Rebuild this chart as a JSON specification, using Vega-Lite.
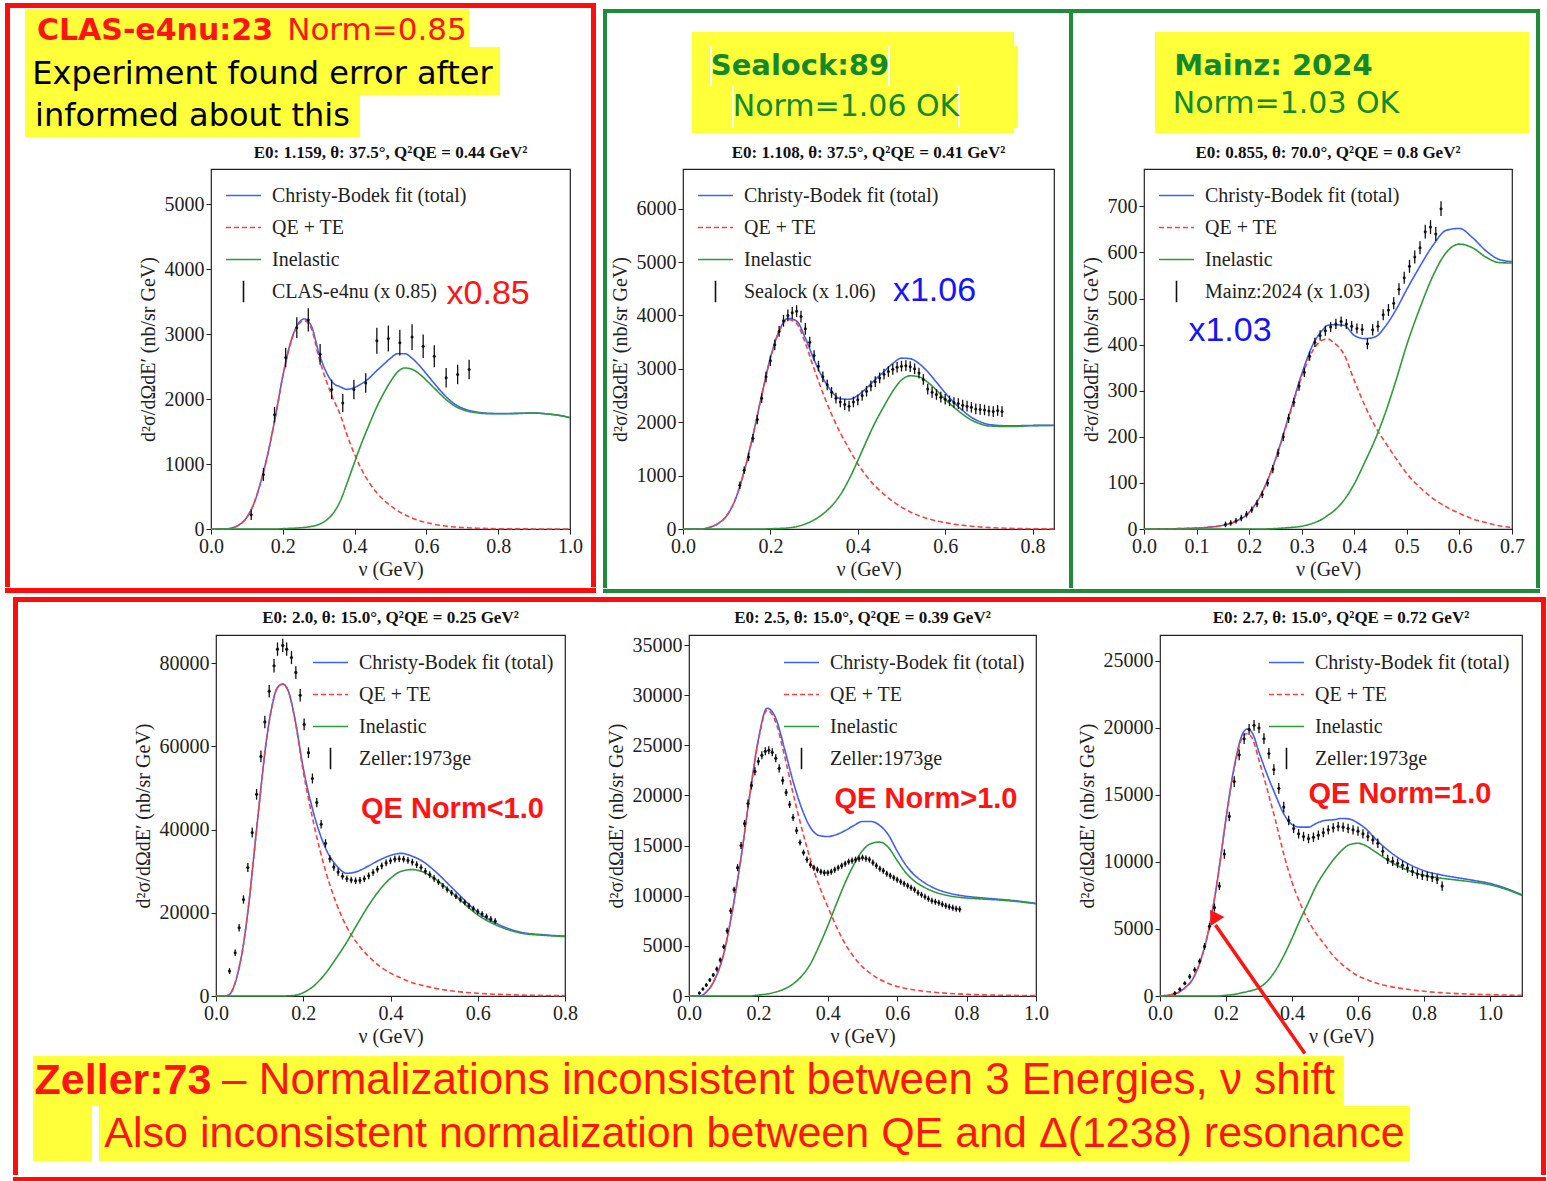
{
"$schema":"https://vega.github.io/schema/vega-lite/v6.json",
"padding":0,
"background":"white",
"datasets":{
"one":[{"a":1}],
"none":[],
"c1":[{"x":0,"qe":0,"inel":0,"tot":0},{"x":0.04,"qe":0,"inel":0,"tot":0},{"x":0.06,"qe":20,"inel":0,"tot":20},{"x":0.08,"qe":70,"inel":0,"tot":70},{"x":0.1,"qe":180,"inel":0,"tot":180},{"x":0.12,"qe":400,"inel":0,"tot":400},{"x":0.14,"qe":750,"inel":0,"tot":750},{"x":0.16,"qe":1200,"inel":0,"tot":1200},{"x":0.18,"qe":1750,"inel":0,"tot":1750},{"x":0.2,"qe":2350,"inel":5,"tot":2355},{"x":0.22,"qe":2830,"inel":10,"tot":2840},{"x":0.24,"qe":3120,"inel":15,"tot":3135},{"x":0.26,"qe":3210,"inel":25,"tot":3235},{"x":0.28,"qe":3080,"inel":40,"tot":3120},{"x":0.3,"qe":2650,"inel":70,"tot":2720},{"x":0.32,"qe":2300,"inel":130,"tot":2430},{"x":0.34,"qe":2010,"inel":240,"tot":2250},{"x":0.36,"qe":1760,"inel":430,"tot":2190},{"x":0.38,"qe":1430,"inel":720,"tot":2150},{"x":0.4,"qe":1150,"inel":1030,"tot":2180},{"x":0.42,"qe":910,"inel":1330,"tot":2240},{"x":0.44,"qe":720,"inel":1600,"tot":2320},{"x":0.46,"qe":570,"inel":1860,"tot":2430},{"x":0.48,"qe":450,"inel":2080,"tot":2530},{"x":0.5,"qe":360,"inel":2270,"tot":2630},{"x":0.52,"qe":280,"inel":2420,"tot":2700},{"x":0.54,"qe":220,"inel":2480,"tot":2700},{"x":0.56,"qe":170,"inel":2460,"tot":2630},{"x":0.58,"qe":130,"inel":2390,"tot":2520},{"x":0.6,"qe":100,"inel":2290,"tot":2390},{"x":0.62,"qe":75,"inel":2180,"tot":2255},{"x":0.64,"qe":55,"inel":2070,"tot":2125},{"x":0.66,"qe":40,"inel":1970,"tot":2010},{"x":0.68,"qe":30,"inel":1890,"tot":1920},{"x":0.7,"qe":22,"inel":1840,"tot":1862},{"x":0.74,"qe":12,"inel":1790,"tot":1802},{"x":0.78,"qe":6,"inel":1775,"tot":1781},{"x":0.82,"qe":3,"inel":1775,"tot":1778},{"x":0.86,"qe":2,"inel":1780,"tot":1782},{"x":0.9,"qe":1,"inel":1785,"tot":1786},{"x":0.94,"qe":0,"inel":1770,"tot":1770},{"x":0.97,"qe":0,"inel":1750,"tot":1750},{"x":1.0,"qe":0,"inel":1715,"tot":1715}],
"d1":[{"x":0.112,"y":220,"e":80},{"x":0.146,"y":840,"e":100},{"x":0.177,"y":1760,"e":120},{"x":0.208,"y":2640,"e":150},{"x":0.239,"y":3100,"e":160},{"x":0.271,"y":3220,"e":180},{"x":0.304,"y":2690,"e":160},{"x":0.336,"y":2150,"e":150},{"x":0.367,"y":1940,"e":140},{"x":0.398,"y":2150,"e":150},{"x":0.431,"y":2250,"e":150},{"x":0.462,"y":2900,"e":200},{"x":0.494,"y":2935,"e":200},{"x":0.526,"y":2870,"e":200},{"x":0.56,"y":2955,"e":200},{"x":0.591,"y":2815,"e":180},{"x":0.622,"y":2660,"e":170},{"x":0.655,"y":2330,"e":150},{"x":0.687,"y":2380,"e":150},{"x":0.719,"y":2455,"e":150}],
"c2":[{"x":0,"qe":0,"inel":0,"tot":0},{"x":0.04,"qe":0,"inel":0,"tot":0},{"x":0.06,"qe":30,"inel":0,"tot":30},{"x":0.08,"qe":100,"inel":0,"tot":100},{"x":0.1,"qe":250,"inel":0,"tot":250},{"x":0.12,"qe":560,"inel":0,"tot":560},{"x":0.14,"qe":1080,"inel":0,"tot":1080},{"x":0.16,"qe":1750,"inel":0,"tot":1750},{"x":0.18,"qe":2500,"inel":0,"tot":2500},{"x":0.2,"qe":3200,"inel":5,"tot":3205},{"x":0.22,"qe":3700,"inel":10,"tot":3710},{"x":0.24,"qe":3925,"inel":20,"tot":3945},{"x":0.26,"qe":3850,"inel":45,"tot":3895},{"x":0.28,"qe":3480,"inel":95,"tot":3575},{"x":0.3,"qe":3000,"inel":170,"tot":3170},{"x":0.32,"qe":2550,"inel":280,"tot":2830},{"x":0.34,"qe":2150,"inel":430,"tot":2580},{"x":0.36,"qe":1800,"inel":640,"tot":2440},{"x":0.38,"qe":1500,"inel":930,"tot":2430},{"x":0.4,"qe":1220,"inel":1280,"tot":2500},{"x":0.42,"qe":990,"inel":1650,"tot":2640},{"x":0.44,"qe":800,"inel":2000,"tot":2800},{"x":0.46,"qe":650,"inel":2300,"tot":2950},{"x":0.48,"qe":520,"inel":2580,"tot":3100},{"x":0.5,"qe":410,"inel":2790,"tot":3200},{"x":0.52,"qe":320,"inel":2870,"tot":3190},{"x":0.54,"qe":250,"inel":2850,"tot":3100},{"x":0.56,"qe":195,"inel":2750,"tot":2945},{"x":0.58,"qe":150,"inel":2600,"tot":2750},{"x":0.6,"qe":120,"inel":2430,"tot":2550},{"x":0.62,"qe":90,"inel":2280,"tot":2370},{"x":0.64,"qe":70,"inel":2150,"tot":2220},{"x":0.66,"qe":52,"inel":2040,"tot":2092},{"x":0.68,"qe":38,"inel":1970,"tot":2008},{"x":0.7,"qe":28,"inel":1930,"tot":1958},{"x":0.75,"qe":12,"inel":1920,"tot":1932},{"x":0.8,"qe":5,"inel":1935,"tot":1940},{"x":0.849,"qe":2,"inel":1940,"tot":1942}],
"d2":[{"x":0.13,"y":820,"e":70},{"x":0.14,"y":1100,"e":70},{"x":0.15,"y":1350,"e":80},{"x":0.16,"y":1700,"e":80},{"x":0.17,"y":2050,"e":90},{"x":0.18,"y":2450,"e":90},{"x":0.19,"y":2850,"e":100},{"x":0.2,"y":3150,"e":100},{"x":0.21,"y":3450,"e":100},{"x":0.22,"y":3700,"e":100},{"x":0.23,"y":3900,"e":110},{"x":0.24,"y":4000,"e":110},{"x":0.25,"y":4050,"e":110},{"x":0.26,"y":4080,"e":110},{"x":0.27,"y":3980,"e":110},{"x":0.28,"y":3750,"e":110},{"x":0.29,"y":3500,"e":100},{"x":0.3,"y":3250,"e":100},{"x":0.31,"y":3050,"e":100},{"x":0.32,"y":2850,"e":100},{"x":0.33,"y":2700,"e":100},{"x":0.34,"y":2560,"e":100},{"x":0.35,"y":2450,"e":100},{"x":0.36,"y":2380,"e":100},{"x":0.37,"y":2330,"e":100},{"x":0.38,"y":2300,"e":100},{"x":0.39,"y":2380,"e":100},{"x":0.4,"y":2420,"e":100},{"x":0.41,"y":2500,"e":100},{"x":0.42,"y":2580,"e":100},{"x":0.43,"y":2680,"e":100},{"x":0.44,"y":2760,"e":100},{"x":0.45,"y":2830,"e":100},{"x":0.46,"y":2900,"e":100},{"x":0.47,"y":2950,"e":100},{"x":0.48,"y":2990,"e":100},{"x":0.49,"y":3030,"e":100},{"x":0.5,"y":3050,"e":100},{"x":0.51,"y":3060,"e":100},{"x":0.52,"y":3040,"e":100},{"x":0.53,"y":3000,"e":100},{"x":0.54,"y":2920,"e":100},{"x":0.55,"y":2800,"e":100},{"x":0.56,"y":2620,"e":100},{"x":0.57,"y":2560,"e":100},{"x":0.58,"y":2520,"e":100},{"x":0.59,"y":2470,"e":100},{"x":0.6,"y":2430,"e":100},{"x":0.61,"y":2400,"e":100},{"x":0.62,"y":2370,"e":100},{"x":0.63,"y":2350,"e":100},{"x":0.64,"y":2320,"e":100},{"x":0.65,"y":2300,"e":100},{"x":0.66,"y":2280,"e":100},{"x":0.67,"y":2250,"e":100},{"x":0.68,"y":2240,"e":100},{"x":0.69,"y":2230,"e":100},{"x":0.7,"y":2210,"e":100},{"x":0.71,"y":2200,"e":100},{"x":0.72,"y":2220,"e":100},{"x":0.73,"y":2200,"e":100}],
"c3":[{"x":0,"qe":0,"inel":0,"tot":0},{"x":0.05,"qe":0.5,"inel":0,"tot":0.5},{"x":0.1,"qe":2,"inel":0,"tot":2},{"x":0.125,"qe":4,"inel":0,"tot":4},{"x":0.15,"qe":8,"inel":0,"tot":8},{"x":0.175,"qe":17,"inel":0,"tot":17},{"x":0.2,"qe":36,"inel":0,"tot":36},{"x":0.225,"qe":80,"inel":0,"tot":80},{"x":0.25,"qe":150,"inel":1,"tot":151},{"x":0.275,"qe":240,"inel":3,"tot":243},{"x":0.3,"qe":330,"inel":6,"tot":336},{"x":0.32,"qe":385,"inel":12,"tot":397},{"x":0.34,"qe":410,"inel":22,"tot":432},{"x":0.35,"qe":412,"inel":30,"tot":442},{"x":0.36,"qe":405,"inel":38,"tot":443},{"x":0.38,"qe":380,"inel":62,"tot":442},{"x":0.4,"qe":322,"inel":98,"tot":420},{"x":0.42,"qe":268,"inel":145,"tot":413},{"x":0.44,"qe":222,"inel":195,"tot":417},{"x":0.46,"qe":186,"inel":255,"tot":441},{"x":0.48,"qe":152,"inel":325,"tot":477},{"x":0.5,"qe":120,"inel":400,"tot":520},{"x":0.525,"qe":90,"inel":480,"tot":570},{"x":0.55,"qe":66,"inel":550,"tot":616},{"x":0.575,"qe":48,"inel":600,"tot":648},{"x":0.6,"qe":34,"inel":618,"tot":652},{"x":0.625,"qe":22,"inel":610,"tot":632},{"x":0.65,"qe":14,"inel":590,"tot":604},{"x":0.675,"qe":7,"inel":578,"tot":585},{"x":0.7,"qe":3,"inel":577,"tot":580}],
"d3":[{"x":0.155,"y":10,"e":6},{"x":0.165,"y":13,"e":6},{"x":0.175,"y":18,"e":6},{"x":0.185,"y":24,"e":7},{"x":0.195,"y":32,"e":7},{"x":0.205,"y":42,"e":7},{"x":0.215,"y":55,"e":8},{"x":0.225,"y":75,"e":8},{"x":0.235,"y":100,"e":8},{"x":0.245,"y":130,"e":9},{"x":0.255,"y":165,"e":9},{"x":0.265,"y":200,"e":9},{"x":0.275,"y":240,"e":10},{"x":0.285,"y":275,"e":10},{"x":0.295,"y":310,"e":10},{"x":0.305,"y":340,"e":10},{"x":0.315,"y":375,"e":10},{"x":0.325,"y":405,"e":10},{"x":0.335,"y":420,"e":11},{"x":0.345,"y":430,"e":11},{"x":0.355,"y":438,"e":11},{"x":0.365,"y":445,"e":11},{"x":0.375,"y":450,"e":11},{"x":0.385,"y":445,"e":11},{"x":0.395,"y":440,"e":11},{"x":0.405,"y":435,"e":11},{"x":0.415,"y":433,"e":12},{"x":0.425,"y":402,"e":12},{"x":0.435,"y":432,"e":12},{"x":0.445,"y":440,"e":12},{"x":0.455,"y":465,"e":12},{"x":0.465,"y":475,"e":13},{"x":0.475,"y":490,"e":13},{"x":0.485,"y":520,"e":13},{"x":0.495,"y":545,"e":13},{"x":0.505,"y":570,"e":14},{"x":0.515,"y":590,"e":14},{"x":0.525,"y":610,"e":14},{"x":0.535,"y":645,"e":15},{"x":0.545,"y":655,"e":15},{"x":0.555,"y":640,"e":15},{"x":0.565,"y":695,"e":16}],
"c4":[{"x":0,"qe":0,"inel":0,"tot":0},{"x":0.02,"qe":0,"inel":0,"tot":0},{"x":0.03,"qe":300,"inel":0,"tot":300},{"x":0.04,"qe":2000,"inel":0,"tot":2000},{"x":0.05,"qe":5500,"inel":0,"tot":5500},{"x":0.06,"qe":10500,"inel":0,"tot":10500},{"x":0.075,"qe":22000,"inel":0,"tot":22000},{"x":0.09,"qe":37000,"inel":0,"tot":37000},{"x":0.1,"qe":47000,"inel":0,"tot":47000},{"x":0.115,"qe":61000,"inel":0,"tot":61000},{"x":0.13,"qe":70500,"inel":0,"tot":70500},{"x":0.14,"qe":74000,"inel":0,"tot":74000},{"x":0.153,"qe":75000,"inel":0,"tot":75000},{"x":0.165,"qe":73500,"inel":50,"tot":73550},{"x":0.18,"qe":67000,"inel":150,"tot":67150},{"x":0.2,"qe":54000,"inel":800,"tot":54800},{"x":0.225,"qe":41000,"inel":2500,"tot":43500},{"x":0.25,"qe":30500,"inel":5300,"tot":35800},{"x":0.275,"qe":22500,"inel":9000,"tot":31500},{"x":0.3,"qe":16500,"inel":13000,"tot":29500},{"x":0.325,"qe":12500,"inel":17500,"tot":30000},{"x":0.35,"qe":9500,"inel":21800,"tot":31300},{"x":0.375,"qe":7200,"inel":25500,"tot":32700},{"x":0.4,"qe":5500,"inel":28300,"tot":33800},{"x":0.425,"qe":4300,"inel":30000,"tot":34300},{"x":0.45,"qe":3200,"inel":30400,"tot":33600},{"x":0.475,"qe":2500,"inel":29800,"tot":32300},{"x":0.5,"qe":1900,"inel":28300,"tot":30200},{"x":0.55,"qe":1100,"inel":24000,"tot":25100},{"x":0.6,"qe":650,"inel":19500,"tot":20150},{"x":0.65,"qe":380,"inel":16700,"tot":17080},{"x":0.7,"qe":220,"inel":15100,"tot":15320},{"x":0.75,"qe":130,"inel":14600,"tot":14730},{"x":0.8,"qe":80,"inel":14300,"tot":14380}],
"d4":[{"x":0.031,"y":6000,"e":700},{"x":0.044,"y":10400,"e":800},{"x":0.053,"y":16400,"e":900},{"x":0.063,"y":23200,"e":1000},{"x":0.073,"y":30900,"e":1100},{"x":0.083,"y":39300,"e":1200},{"x":0.093,"y":48500,"e":1300},{"x":0.103,"y":57600,"e":1400},{"x":0.112,"y":65900,"e":1500},{"x":0.122,"y":73300,"e":1500},{"x":0.133,"y":79400,"e":1600},{"x":0.141,"y":83400,"e":1600},{"x":0.153,"y":84300,"e":1600},{"x":0.162,"y":83400,"e":1600},{"x":0.173,"y":81400,"e":1600},{"x":0.183,"y":77800,"e":1500},{"x":0.193,"y":72300,"e":1500},{"x":0.202,"y":65300,"e":1400},{"x":0.212,"y":58500,"e":1300},{"x":0.221,"y":52300,"e":1200},{"x":0.231,"y":46500,"e":1100},{"x":0.241,"y":41300,"e":1000},{"x":0.251,"y":36700,"e":1000},{"x":0.261,"y":33000,"e":900},{"x":0.27,"y":31000,"e":900},{"x":0.28,"y":29800,"e":900},{"x":0.29,"y":28800,"e":800},{"x":0.3,"y":28200,"e":800},{"x":0.31,"y":27900,"e":800},{"x":0.32,"y":27700,"e":800},{"x":0.33,"y":27800,"e":800},{"x":0.34,"y":28200,"e":800},{"x":0.35,"y":28900,"e":800},{"x":0.36,"y":29700,"e":800},{"x":0.37,"y":30500,"e":800},{"x":0.38,"y":31300,"e":800},{"x":0.39,"y":32000,"e":800},{"x":0.4,"y":32500,"e":800},{"x":0.41,"y":32900,"e":800},{"x":0.42,"y":33000,"e":800},{"x":0.43,"y":32900,"e":800},{"x":0.44,"y":32600,"e":800},{"x":0.45,"y":32200,"e":800},{"x":0.46,"y":31600,"e":800},{"x":0.47,"y":30900,"e":800},{"x":0.48,"y":30000,"e":800},{"x":0.49,"y":29200,"e":800},{"x":0.5,"y":28300,"e":800},{"x":0.51,"y":27400,"e":700},{"x":0.52,"y":26500,"e":700},{"x":0.53,"y":25600,"e":700},{"x":0.54,"y":24800,"e":700},{"x":0.55,"y":24000,"e":700},{"x":0.56,"y":23200,"e":700},{"x":0.57,"y":22500,"e":700},{"x":0.58,"y":21700,"e":700},{"x":0.59,"y":21000,"e":700},{"x":0.6,"y":20300,"e":700},{"x":0.61,"y":19700,"e":700},{"x":0.62,"y":19100,"e":700},{"x":0.63,"y":18500,"e":700},{"x":0.64,"y":18000,"e":700}],
"c5":[{"x":0,"qe":0,"inel":0,"tot":0},{"x":0.03,"qe":0,"inel":0,"tot":0},{"x":0.05,"qe":400,"inel":0,"tot":400},{"x":0.075,"qe":1700,"inel":0,"tot":1700},{"x":0.1,"qe":4200,"inel":0,"tot":4200},{"x":0.125,"qe":8500,"inel":0,"tot":8500},{"x":0.15,"qe":13800,"inel":0,"tot":13800},{"x":0.175,"qe":20000,"inel":0,"tot":20000},{"x":0.2,"qe":25500,"inel":100,"tot":25600},{"x":0.225,"qe":28500,"inel":200,"tot":28700},{"x":0.25,"qe":27300,"inel":400,"tot":27700},{"x":0.275,"qe":24000,"inel":700,"tot":24700},{"x":0.3,"qe":20200,"inel":1200,"tot":21400},{"x":0.325,"qe":16700,"inel":2000,"tot":18700},{"x":0.35,"qe":13600,"inel":3200,"tot":16800},{"x":0.375,"qe":11000,"inel":5000,"tot":16000},{"x":0.4,"qe":8900,"inel":7000,"tot":15900},{"x":0.425,"qe":6900,"inel":9200,"tot":16100},{"x":0.45,"qe":5200,"inel":11300,"tot":16500},{"x":0.475,"qe":3900,"inel":13100,"tot":17000},{"x":0.5,"qe":2900,"inel":14500,"tot":17400},{"x":0.525,"qe":2200,"inel":15200,"tot":17400},{"x":0.55,"qe":1650,"inel":15350,"tot":17000},{"x":0.575,"qe":1250,"inel":14800,"tot":16050},{"x":0.6,"qe":950,"inel":13500,"tot":14450},{"x":0.625,"qe":750,"inel":12300,"tot":13050},{"x":0.65,"qe":600,"inel":11450,"tot":12050},{"x":0.675,"qe":480,"inel":10900,"tot":11380},{"x":0.7,"qe":390,"inel":10480,"tot":10870},{"x":0.75,"qe":260,"inel":9990,"tot":10250},{"x":0.8,"qe":170,"inel":9770,"tot":9940},{"x":0.85,"qe":110,"inel":9660,"tot":9770},{"x":0.9,"qe":75,"inel":9555,"tot":9630},{"x":0.95,"qe":55,"inel":9405,"tot":9460},{"x":1.0,"qe":40,"inel":9200,"tot":9240}],
"d5":[{"x":0.03,"y":300,"e":150},{"x":0.04,"y":700,"e":150},{"x":0.05,"y":1100,"e":200},{"x":0.06,"y":1600,"e":200},{"x":0.07,"y":2100,"e":200},{"x":0.08,"y":2700,"e":250},{"x":0.09,"y":3600,"e":250},{"x":0.1,"y":4900,"e":250},{"x":0.11,"y":6500,"e":300},{"x":0.12,"y":8500,"e":300},{"x":0.13,"y":10600,"e":300},{"x":0.14,"y":12800,"e":350},{"x":0.15,"y":15000,"e":350},{"x":0.16,"y":17200,"e":350},{"x":0.17,"y":19200,"e":400},{"x":0.18,"y":21000,"e":400},{"x":0.19,"y":22400,"e":400},{"x":0.2,"y":23400,"e":400},{"x":0.21,"y":24000,"e":400},{"x":0.22,"y":24400,"e":400},{"x":0.23,"y":24500,"e":400},{"x":0.24,"y":24300,"e":400},{"x":0.25,"y":23700,"e":400},{"x":0.26,"y":22700,"e":400},{"x":0.27,"y":21500,"e":400},{"x":0.28,"y":20300,"e":350},{"x":0.29,"y":19100,"e":350},{"x":0.3,"y":17800,"e":350},{"x":0.31,"y":16500,"e":350},{"x":0.32,"y":15300,"e":300},{"x":0.33,"y":14300,"e":300},{"x":0.34,"y":13600,"e":300},{"x":0.35,"y":13100,"e":300},{"x":0.36,"y":12800,"e":300},{"x":0.37,"y":12600,"e":300},{"x":0.38,"y":12400,"e":300},{"x":0.39,"y":12300,"e":300},{"x":0.4,"y":12300,"e":300},{"x":0.41,"y":12400,"e":300},{"x":0.42,"y":12600,"e":300},{"x":0.43,"y":12800,"e":300},{"x":0.44,"y":13000,"e":300},{"x":0.45,"y":13200,"e":300},{"x":0.46,"y":13400,"e":300},{"x":0.47,"y":13500,"e":300},{"x":0.48,"y":13600,"e":300},{"x":0.49,"y":13700,"e":300},{"x":0.5,"y":13800,"e":300},{"x":0.51,"y":13700,"e":300},{"x":0.52,"y":13600,"e":300},{"x":0.53,"y":13300,"e":300},{"x":0.54,"y":13000,"e":300},{"x":0.55,"y":12700,"e":300},{"x":0.56,"y":12500,"e":300},{"x":0.57,"y":12200,"e":300},{"x":0.58,"y":12000,"e":300},{"x":0.59,"y":11800,"e":300},{"x":0.6,"y":11600,"e":300},{"x":0.61,"y":11400,"e":300},{"x":0.62,"y":11200,"e":300},{"x":0.63,"y":11000,"e":300},{"x":0.64,"y":10800,"e":300},{"x":0.65,"y":10600,"e":300},{"x":0.66,"y":10300,"e":300},{"x":0.67,"y":10100,"e":300},{"x":0.68,"y":9900,"e":300},{"x":0.69,"y":9700,"e":300},{"x":0.7,"y":9500,"e":300},{"x":0.71,"y":9400,"e":300},{"x":0.72,"y":9300,"e":300},{"x":0.73,"y":9150,"e":300},{"x":0.74,"y":9000,"e":300},{"x":0.75,"y":8900,"e":300},{"x":0.76,"y":8800,"e":300},{"x":0.77,"y":8700,"e":300},{"x":0.78,"y":8650,"e":300}],
"c6":[{"x":0,"qe":0,"inel":0,"tot":0},{"x":0.05,"qe":200,"inel":0,"tot":200},{"x":0.075,"qe":600,"inel":0,"tot":600},{"x":0.1,"qe":1300,"inel":0,"tot":1300},{"x":0.125,"qe":2800,"inel":0,"tot":2800},{"x":0.15,"qe":5200,"inel":0,"tot":5200},{"x":0.175,"qe":8800,"inel":0,"tot":8800},{"x":0.2,"qe":13200,"inel":60,"tot":13260},{"x":0.225,"qe":17000,"inel":120,"tot":17120},{"x":0.25,"qe":19300,"inel":250,"tot":19550},{"x":0.265,"qe":19600,"inel":330,"tot":19930},{"x":0.28,"qe":19200,"inel":420,"tot":19620},{"x":0.3,"qe":17600,"inel":600,"tot":18200},{"x":0.325,"qe":15400,"inel":1100,"tot":16500},{"x":0.35,"qe":13100,"inel":1900,"tot":15000},{"x":0.375,"qe":10600,"inel":3000,"tot":13600},{"x":0.4,"qe":8500,"inel":4300,"tot":12800},{"x":0.425,"qe":6900,"inel":5700,"tot":12600},{"x":0.45,"qe":5600,"inel":7000,"tot":12600},{"x":0.475,"qe":4600,"inel":8300,"tot":12900},{"x":0.5,"qe":3800,"inel":9300,"tot":13100},{"x":0.525,"qe":3000,"inel":10150,"tot":13150},{"x":0.55,"qe":2400,"inel":10850,"tot":13250},{"x":0.575,"qe":1900,"inel":11300,"tot":13200},{"x":0.6,"qe":1500,"inel":11400,"tot":12900},{"x":0.625,"qe":1250,"inel":11200,"tot":12450},{"x":0.65,"qe":1000,"inel":10800,"tot":11800},{"x":0.7,"qe":700,"inel":10000,"tot":10700},{"x":0.75,"qe":500,"inel":9400,"tot":9900},{"x":0.8,"qe":350,"inel":9000,"tot":9350},{"x":0.85,"qe":250,"inel":8800,"tot":9050},{"x":0.9,"qe":180,"inel":8650,"tot":8830},{"x":0.95,"qe":130,"inel":8500,"tot":8630},{"x":1.0,"qe":100,"inel":8300,"tot":8400},{"x":1.05,"qe":70,"inel":7950,"tot":8020},{"x":1.097,"qe":50,"inel":7500,"tot":7550}],
"d6":[{"x":0.045,"y":200,"e":150},{"x":0.06,"y":500,"e":150},{"x":0.075,"y":950,"e":150},{"x":0.09,"y":1450,"e":200},{"x":0.105,"y":1950,"e":200},{"x":0.12,"y":2600,"e":200},{"x":0.135,"y":3700,"e":250},{"x":0.15,"y":5200,"e":250},{"x":0.165,"y":6600,"e":300},{"x":0.18,"y":8200,"e":300},{"x":0.195,"y":10600,"e":350},{"x":0.21,"y":13400,"e":350},{"x":0.225,"y":16000,"e":400},{"x":0.24,"y":18000,"e":400},{"x":0.255,"y":19200,"e":400},{"x":0.27,"y":19900,"e":400},{"x":0.285,"y":20200,"e":400},{"x":0.3,"y":20000,"e":400},{"x":0.315,"y":19200,"e":400},{"x":0.33,"y":18100,"e":400},{"x":0.345,"y":16900,"e":400},{"x":0.36,"y":15500,"e":400},{"x":0.375,"y":14100,"e":400},{"x":0.39,"y":13100,"e":350},{"x":0.405,"y":12500,"e":350},{"x":0.42,"y":12100,"e":350},{"x":0.435,"y":11900,"e":350},{"x":0.45,"y":11750,"e":350},{"x":0.465,"y":11850,"e":350},{"x":0.48,"y":12000,"e":350},{"x":0.495,"y":12200,"e":350},{"x":0.51,"y":12400,"e":350},{"x":0.525,"y":12550,"e":350},{"x":0.54,"y":12650,"e":350},{"x":0.555,"y":12600,"e":350},{"x":0.57,"y":12500,"e":350},{"x":0.585,"y":12400,"e":350},{"x":0.6,"y":12300,"e":350},{"x":0.615,"y":12100,"e":350},{"x":0.63,"y":11900,"e":350},{"x":0.645,"y":11650,"e":350},{"x":0.66,"y":11400,"e":350},{"x":0.675,"y":10800,"e":350},{"x":0.69,"y":10200,"e":350},{"x":0.705,"y":10050,"e":350},{"x":0.72,"y":9900,"e":350},{"x":0.735,"y":9750,"e":350},{"x":0.75,"y":9550,"e":350},{"x":0.765,"y":9300,"e":350},{"x":0.78,"y":9100,"e":350},{"x":0.795,"y":9000,"e":350},{"x":0.81,"y":8950,"e":350},{"x":0.825,"y":8850,"e":350},{"x":0.84,"y":8700,"e":350},{"x":0.855,"y":8200,"e":350}]
},
"config":{
"view":{"stroke":null},
"concat":{"spacing":0},
"axis":{"grid":false,"domain":false,"tickColor":"#222","tickSize":5,"tickWidth":1,"labelFont":"Liberation Serif","labelFontSize":20,"labelColor":"#222","labelPadding":2,"labelOverlap":false,"labelFlush":false,"titleFont":"Liberation Serif","titleFontSize":20,"titleFontWeight":"normal","titleColor":"#222","titleLimit":1000},
"axisX":{"titlePadding":3},
"axisY":{"titlePadding":6},
"legend":{"labelFont":"Liberation Serif","labelFontSize":20,"labelColor":"#222","symbolSize":1225,"symbolStrokeWidth":1.6,"labelOffset":10,"rowPadding":3,"padding":0,"symbolType":"stroke","labelLimit":400}
},
"vconcat":[
{"hconcat":[
 {"width":5,"height":1,"data":{"name":"none"},"mark":"text"},
 {"vconcat":[
  {"width":591,"height":3,"data":{"name":"none"},"mark":"text"},
  {"vconcat":[
   {"width":591,"height":5,"data":{"name":"none"},"mark":"text","view":{"fill":"#ff0d0d"}},
   {"hconcat":[
    {"width":5,"height":579,"data":{"name":"none"},"mark":"text","view":{"fill":"#ff0d0d"}},
    {"vconcat":[
     {"width":581,"height":1,"data":{"name":"none"},"mark":"text"},
     {"hconcat":[
      {"width":15,"height":38,"data":{"name":"none"},"mark":"text"},
      {"width":260,"height":38,"data":{"name":"one"},"mark":{"type":"text","text":"CLAS-e4nu:23","font":"DejaVu Sans","fontSize":30,"fontWeight":"bold","color":"#ff1414","dy":3},"view":{"fill":"#ffff3a"}},
      {"width":184,"height":38,"data":{"name":"one"},"mark":{"type":"text","text":"Norm=0.85","font":"DejaVu Sans","fontSize":31,"color":"#ff1414","dy":3},"view":{"fill":"#ffff3a"}}
     ]},
     {"hconcat":[
      {"width":15,"height":48,"data":{"name":"none"},"mark":"text"},
      {"width":475,"height":48,"data":{"name":"one"},"mark":{"type":"text","text":"Experiment found error after","font":"DejaVu Sans","fontSize":32,"color":"#000","dy":3},"view":{"fill":"#ffff3a"}}
     ]},
     {"hconcat":[
      {"width":15,"height":42,"data":{"name":"none"},"mark":"text"},
      {"width":335,"height":42,"data":{"name":"one"},"mark":{"type":"text","text":"informed  about this","font":"DejaVu Sans","fontSize":32,"color":"#000"},"view":{"fill":"#ffff3a"}}
     ]},
     {"hconcat":[
      {"width":201,"height":31,"data":{"name":"none"},"mark":"text"},
      {"width":359,"height":31,"data":{"name":"one"},"mark":{"type":"text","text":"E0: 1.159, θ: 37.5°, Q²QE = 0.44 GeV²","font":"Liberation Serif","fontSize":17,"fontWeight":"bold","color":"#111"}},
      {"width":21,"height":31,"data":{"name":"none"},"mark":"text"}
     ]},
     {"hconcat":[
      {"width":201,"height":419,"data":{"name":"none"},"mark":"text"},
      {"width":359,"height":360,"view":{"stroke":"#222","strokeWidth":1.2},
       "layer":[
        {"data":{"name":"c1"},"transform":[{"fold":["tot","qe","inel"],"as":["k","v"]}],
         "mark":{"type":"line","interpolate":"monotone","strokeWidth":1.6},
         "encoding":{
          "x":{"field":"x","type":"quantitative","scale":{"domain":[0,1],"nice":false,"zero":false},"axis":{"values":[0,0.2,0.4,0.6,0.8,1],"format":".1f"},"title":"ν (GeV)"},
          "y":{"field":"v","type":"quantitative","scale":{"domain":[0,5544],"nice":false},"axis":{"values":[0,1000,2000,3000,4000,5000],"format":"d"},"title":"d²σ/dΩdE′ (nb/sr GeV)"},
          "color":{"field":"k","type":"nominal","scale":{"domain":["tot","qe","inel","dat"],"range":["#3f5ff5","#ff4040","#2f9a3a","#111111"]},
            "legend":{"orient":"none","legendX":14,"legendY":8,"title":null,"labelExpr":"datum.value == 'tot' ? 'Christy-Bodek fit (total)' : datum.value == 'qe' ? 'QE + TE' : datum.value == 'inel' ? 'Inelastic' : 'CLAS-e4nu (x 0.85)'",
            "encode":{"symbols":{"update":{"shape":{"signal":"datum.value === 'dat' ? 'M0,-0.62L0,0.62' : 'stroke'"},"strokeDash":{"signal":"datum.value === 'qe' ? [5,3] : [1,0]"}}}}}},
          "strokeDash":{"field":"k","type":"nominal","scale":{"domain":["tot","qe","inel"],"range":[[1,0],[5,3],[1,0]]},"legend":null}
         }},
        {"data":{"name":"d1"},"mark":{"type":"errorbar","thickness":1.3},
         "encoding":{"x":{"field":"x","type":"quantitative","title":"ν (GeV)"},"y":{"field":"y","type":"quantitative","title":"d²σ/dΩdE′ (nb/sr GeV)"},"yError":{"field":"e"},"color":{"datum":"dat"}}},
        {"data":{"name":"d1"},"mark":{"type":"point","filled":true,"size":9,"color":"#111","opacity":1},
         "encoding":{"x":{"field":"x","type":"quantitative","title":"ν (GeV)"},"y":{"field":"y","type":"quantitative","title":"d²σ/dΩdE′ (nb/sr GeV)"}}},
        {"data":{"values":[{"x":0.772,"y":3619,"t":"x0.85"}]},"mark":{"type":"text","font":"Liberation Sans","fontSize":34,"color":"#ff1414"},
         "encoding":{"x":{"field":"x","type":"quantitative","title":"ν (GeV)"},"y":{"field":"y","type":"quantitative","title":"d²σ/dΩdE′ (nb/sr GeV)"},"text":{"field":"t"}}}
       ]},
      {"width":21,"height":419,"data":{"name":"none"},"mark":"text"}
     ],"bounds":"flush","resolve":{"scale":{"color":"independent","strokeDash":"independent"},"legend":{"color":"independent"}}}
    ],"resolve":{"scale":{"color":"independent","strokeDash":"independent"},"legend":{"color":"independent"}}},
    {"width":5,"height":579,"data":{"name":"none"},"mark":"text","view":{"fill":"#ff0d0d"}}
   ],"resolve":{"scale":{"color":"independent","strokeDash":"independent"},"legend":{"color":"independent"}}},
   {"width":591,"height":5,"data":{"name":"none"},"mark":"text","view":{"fill":"#ff0d0d"}}
  ],"resolve":{"scale":{"color":"independent","strokeDash":"independent"},"legend":{"color":"independent"}}}
 ],"resolve":{"scale":{"color":"independent","strokeDash":"independent"},"legend":{"color":"independent"}}},
 {"width":7,"height":1,"data":{"name":"none"},"mark":"text"},
 {"vconcat":[
  {"width":937,"height":9,"data":{"name":"none"},"mark":"text"},
  {"vconcat":[
   {"width":937,"height":4,"data":{"name":"none"},"mark":"text","view":{"fill":"#1e8c3a"}},
   {"hconcat":[
    {"width":4,"height":575,"data":{"name":"none"},"mark":"text","view":{"fill":"#1e8c3a"}},
    {"vconcat":[
     {"width":462,"height":19,"data":{"name":"none"},"mark":"text"},
     {"hconcat":[
      {"width":85,"height":101,"data":{"name":"none"},"mark":"text"},
      {"vconcat":[
       {"width":322,"height":14,"data":{"name":"none"},"mark":"text","view":{"fill":"#ffff3a"}},
       {"hconcat":[
        {"width":18,"height":40,"data":{"name":"none"},"mark":"text","view":{"fill":"#ffff3a"}},
        {"width":176,"height":40,"data":{"name":"one"},"mark":{"type":"text","text":"Sealock:89","font":"DejaVu Sans","fontSize":29,"fontWeight":"bold","color":"#128a2c"},"view":{"fill":"#ffff3a"}},
        {"width":128,"height":40,"data":{"name":"none"},"mark":"text","view":{"fill":"#ffff3a"}}
       ]},
       {"hconcat":[
        {"width":40,"height":42,"data":{"name":"none"},"mark":"text","view":{"fill":"#ffff3a"}},
        {"width":224,"height":42,"data":{"name":"one"},"mark":{"type":"text","text":"Norm=1.06 OK","font":"DejaVu Sans","fontSize":30,"color":"#128a2c"},"view":{"fill":"#ffff3a"}},
        {"width":58,"height":42,"data":{"name":"none"},"mark":"text","view":{"fill":"#ffff3a"}}
       ]},
       {"width":322,"height":5,"data":{"name":"none"},"mark":"text","view":{"fill":"#ffff3a"}}
      ]}
     ]},
     {"width":462,"height":4,"data":{"name":"none"},"mark":"text"},
     {"hconcat":[
      {"width":76,"height":31,"data":{"name":"none"},"mark":"text"},
      {"width":371,"height":31,"data":{"name":"one"},"mark":{"type":"text","text":"E0: 1.108, θ: 37.5°, Q²QE = 0.41 GeV²","font":"Liberation Serif","fontSize":17,"fontWeight":"bold","color":"#111"}},
      {"width":15,"height":31,"data":{"name":"none"},"mark":"text"}
     ]},
     {"hconcat":[
      {"width":76,"height":420,"data":{"name":"none"},"mark":"text"},
      {"width":371,"height":360,"view":{"stroke":"#222","strokeWidth":1.2},
       "layer":[
        {"data":{"name":"c2"},"transform":[{"fold":["tot","qe","inel"],"as":["k","v"]}],
         "mark":{"type":"line","interpolate":"monotone","strokeWidth":1.6},
         "encoding":{
          "x":{"field":"x","type":"quantitative","scale":{"domain":[0,0.849],"nice":false,"zero":false},"axis":{"values":[0,0.2,0.4,0.6,0.8],"format":".1f"},"title":"ν (GeV)"},
          "y":{"field":"v","type":"quantitative","scale":{"domain":[0,6743],"nice":false},"axis":{"values":[0,1000,2000,3000,4000,5000,6000],"format":"d"},"title":"d²σ/dΩdE′ (nb/sr GeV)"},
          "color":{"field":"k","type":"nominal","scale":{"domain":["tot","qe","inel","dat"],"range":["#3f5ff5","#ff4040","#2f9a3a","#111111"]},
            "legend":{"orient":"none","legendX":14,"legendY":8,"title":null,"labelExpr":"datum.value == 'tot' ? 'Christy-Bodek fit (total)' : datum.value == 'qe' ? 'QE + TE' : datum.value == 'inel' ? 'Inelastic' : 'Sealock (x 1.06)'",
            "encode":{"symbols":{"update":{"shape":{"signal":"datum.value === 'dat' ? 'M0,-0.62L0,0.62' : 'stroke'"},"strokeDash":{"signal":"datum.value === 'qe' ? [5,3] : [1,0]"}}}}}},
          "strokeDash":{"field":"k","type":"nominal","scale":{"domain":["tot","qe","inel"],"range":[[1,0],[5,3],[1,0]]},"legend":null}
         }},
        {"data":{"name":"d2"},"mark":{"type":"errorbar","thickness":1.3},
         "encoding":{"x":{"field":"x","type":"quantitative","title":"ν (GeV)"},"y":{"field":"y","type":"quantitative","title":"d²σ/dΩdE′ (nb/sr GeV)"},"yError":{"field":"e"},"color":{"datum":"dat"}}},
        {"data":{"name":"d2"},"mark":{"type":"point","filled":true,"size":9,"color":"#111","opacity":1},
         "encoding":{"x":{"field":"x","type":"quantitative","title":"ν (GeV)"},"y":{"field":"y","type":"quantitative","title":"d²σ/dΩdE′ (nb/sr GeV)"}}},
        {"data":{"values":[{"x":0.5755,"y":4458,"t":"x1.06"}]},"mark":{"type":"text","font":"Liberation Sans","fontSize":34,"color":"#1414ff"},
         "encoding":{"x":{"field":"x","type":"quantitative","title":"ν (GeV)"},"y":{"field":"y","type":"quantitative","title":"d²σ/dΩdE′ (nb/sr GeV)"},"text":{"field":"t"}}}
       ]},
      {"width":15,"height":420,"data":{"name":"none"},"mark":"text"}
     ],"bounds":"flush","resolve":{"scale":{"color":"independent","strokeDash":"independent"},"legend":{"color":"independent"}}}
    ],"resolve":{"scale":{"color":"independent","strokeDash":"independent"},"legend":{"color":"independent"}}},
    {"width":4,"height":575,"data":{"name":"none"},"mark":"text","view":{"fill":"#1e8c3a"}},
    {"vconcat":[
     {"width":463,"height":19,"data":{"name":"none"},"mark":"text"},
     {"hconcat":[
      {"width":82,"height":101,"data":{"name":"none"},"mark":"text"},
      {"vconcat":[
       {"width":374,"height":14,"data":{"name":"none"},"mark":"text","view":{"fill":"#ffff3a"}},
       {"hconcat":[
        {"width":17,"height":40,"data":{"name":"none"},"mark":"text","view":{"fill":"#ffff3a"}},
        {"width":203,"height":40,"data":{"name":"one"},"mark":{"type":"text","text":"Mainz: 2024","font":"DejaVu Sans","fontSize":29,"fontWeight":"bold","color":"#128a2c"},"view":{"fill":"#ffff3a"}},
        {"width":154,"height":40,"data":{"name":"none"},"mark":"text","view":{"fill":"#ffff3a"}}
       ]},
       {"hconcat":[
        {"width":17,"height":36,"data":{"name":"none"},"mark":"text","view":{"fill":"#ffff3a"}},
        {"width":228,"height":36,"data":{"name":"one"},"mark":{"type":"text","text":"Norm=1.03 OK","font":"DejaVu Sans","fontSize":30,"color":"#128a2c"},"view":{"fill":"#ffff3a"}},
        {"width":129,"height":36,"data":{"name":"none"},"mark":"text","view":{"fill":"#ffff3a"}}
       ]},
       {"width":374,"height":11,"data":{"name":"none"},"mark":"text","view":{"fill":"#ffff3a"}}
      ]}
     ]},
     {"width":463,"height":4,"data":{"name":"none"},"mark":"text"},
     {"hconcat":[
      {"width":71,"height":31,"data":{"name":"none"},"mark":"text"},
      {"width":368,"height":31,"data":{"name":"one"},"mark":{"type":"text","text":"E0: 0.855, θ: 70.0°, Q²QE = 0.8 GeV²","font":"Liberation Serif","fontSize":17,"fontWeight":"bold","color":"#111"}},
      {"width":24,"height":31,"data":{"name":"none"},"mark":"text"}
     ]},
     {"hconcat":[
      {"width":71,"height":420,"data":{"name":"none"},"mark":"text"},
      {"width":368,"height":360,"view":{"stroke":"#222","strokeWidth":1.2},
       "layer":[
        {"data":{"name":"c3"},"transform":[{"fold":["tot","qe","inel"],"as":["k","v"]}],
         "mark":{"type":"line","interpolate":"monotone","strokeWidth":1.6},
         "encoding":{
          "x":{"field":"x","type":"quantitative","scale":{"domain":[0,0.7],"nice":false,"zero":false},"axis":{"values":[0,0.1,0.2,0.3,0.4,0.5,0.6,0.7],"format":".1f"},"title":"ν (GeV)"},
          "y":{"field":"v","type":"quantitative","scale":{"domain":[0,781],"nice":false},"axis":{"values":[0,100,200,300,400,500,600,700],"format":"d"},"title":"d²σ/dΩdE′ (nb/sr GeV)"},
          "color":{"field":"k","type":"nominal","scale":{"domain":["tot","qe","inel","dat"],"range":["#3f5ff5","#ff4040","#2f9a3a","#111111"]},
            "legend":{"orient":"none","legendX":14,"legendY":8,"title":null,"labelExpr":"datum.value == 'tot' ? 'Christy-Bodek fit (total)' : datum.value == 'qe' ? 'QE + TE' : datum.value == 'inel' ? 'Inelastic' : 'Mainz:2024 (x 1.03)'",
            "encode":{"symbols":{"update":{"shape":{"signal":"datum.value === 'dat' ? 'M0,-0.62L0,0.62' : 'stroke'"},"strokeDash":{"signal":"datum.value === 'qe' ? [5,3] : [1,0]"}}}}}},
          "strokeDash":{"field":"k","type":"nominal","scale":{"domain":["tot","qe","inel"],"range":[[1,0],[5,3],[1,0]]},"legend":null}
         }},
        {"data":{"name":"d3"},"mark":{"type":"errorbar","thickness":1.3},
         "encoding":{"x":{"field":"x","type":"quantitative","title":"ν (GeV)"},"y":{"field":"y","type":"quantitative","title":"d²σ/dΩdE′ (nb/sr GeV)"},"yError":{"field":"e"},"color":{"datum":"dat"}}},
        {"data":{"name":"d3"},"mark":{"type":"point","filled":true,"size":9,"color":"#111","opacity":1},
         "encoding":{"x":{"field":"x","type":"quantitative","title":"ν (GeV)"},"y":{"field":"y","type":"quantitative","title":"d²σ/dΩdE′ (nb/sr GeV)"}}},
        {"data":{"values":[{"x":0.1636,"y":430,"t":"x1.03"}]},"mark":{"type":"text","font":"Liberation Sans","fontSize":34,"color":"#1414ff"},
         "encoding":{"x":{"field":"x","type":"quantitative","title":"ν (GeV)"},"y":{"field":"y","type":"quantitative","title":"d²σ/dΩdE′ (nb/sr GeV)"},"text":{"field":"t"}}}
       ]},
      {"width":24,"height":420,"data":{"name":"none"},"mark":"text"}
     ],"bounds":"flush","resolve":{"scale":{"color":"independent","strokeDash":"independent"},"legend":{"color":"independent"}}}
    ],"resolve":{"scale":{"color":"independent","strokeDash":"independent"},"legend":{"color":"independent"}}},
    {"width":4,"height":575,"data":{"name":"none"},"mark":"text","view":{"fill":"#1e8c3a"}}
   ],"resolve":{"scale":{"color":"independent","strokeDash":"independent"},"legend":{"color":"independent"}}},
   {"width":937,"height":4,"data":{"name":"none"},"mark":"text","view":{"fill":"#1e8c3a"}}
  ],"resolve":{"scale":{"color":"independent","strokeDash":"independent"},"legend":{"color":"independent"}}}
 ],"resolve":{"scale":{"color":"independent","strokeDash":"independent"},"legend":{"color":"independent"}}}
],"resolve":{"scale":{"color":"independent","strokeDash":"independent"},"legend":{"color":"independent"}}},
{"width":1547,"height":4,"data":{"name":"none"},"mark":"text"},
{"hconcat":[
 {"width":13,"height":1,"data":{"name":"none"},"mark":"text"},
 {"vconcat":[
  {"width":1533,"height":5,"data":{"name":"none"},"mark":"text","view":{"fill":"#ff0d0d"}},
  {"hconcat":[
   {"width":5,"height":573,"data":{"name":"none"},"mark":"text","view":{"fill":"#ff0d0d"}},
   {"vconcat":[
    {"hconcat":[
     {"width":198,"height":32,"data":{"name":"none"},"mark":"text"},
     {"width":349,"height":32,"data":{"name":"one"},"mark":{"type":"text","text":"E0: 2.0, θ: 15.0°, Q²QE = 0.25 GeV²","font":"Liberation Serif","fontSize":17,"fontWeight":"bold","color":"#111"}},
     {"width":124,"height":32,"data":{"name":"none"},"mark":"text"},
     {"width":347,"height":32,"data":{"name":"one"},"mark":{"type":"text","text":"E0: 2.5, θ: 15.0°, Q²QE = 0.39 GeV²","font":"Liberation Serif","fontSize":17,"fontWeight":"bold","color":"#111"}},
     {"width":124,"height":32,"data":{"name":"none"},"mark":"text"},
     {"width":362,"height":32,"data":{"name":"one"},"mark":{"type":"text","text":"E0: 2.7, θ: 15.0°, Q²QE = 0.72 GeV²","font":"Liberation Serif","fontSize":17,"fontWeight":"bold","color":"#111"}},
     {"width":19,"height":32,"data":{"name":"none"},"mark":"text"}
    ]},
    {"hconcat":[
     {"width":198,"height":420,"data":{"name":"none"},"mark":"text"},
     {"width":349,"height":361,"view":{"stroke":"#222","strokeWidth":1.2},
      "layer":[
       {"data":{"name":"c4"},"transform":[{"fold":["tot","qe","inel"],"as":["k","v"]}],
        "mark":{"type":"line","interpolate":"monotone","strokeWidth":1.6},
        "encoding":{
         "x":{"field":"x","type":"quantitative","scale":{"domain":[0,0.8],"nice":false,"zero":false},"axis":{"values":[0,0.2,0.4,0.6,0.8],"format":".1f"},"title":"ν (GeV)"},
         "y":{"field":"v","type":"quantitative","scale":{"domain":[0,86800],"nice":false},"axis":{"values":[0,20000,40000,60000,80000],"format":"d"},"title":"d²σ/dΩdE′ (nb/sr GeV)"},
         "color":{"field":"k","type":"nominal","scale":{"domain":["tot","qe","inel","dat"],"range":["#3f5ff5","#ff4040","#2f9a3a","#111111"]},
           "legend":{"orient":"none","legendX":96,"legendY":9,"title":null,"labelExpr":"datum.value == 'tot' ? 'Christy-Bodek fit (total)' : datum.value == 'qe' ? 'QE + TE' : datum.value == 'inel' ? 'Inelastic' : 'Zeller:1973ge'",
           "encode":{"symbols":{"update":{"shape":{"signal":"datum.value === 'dat' ? 'M0,-0.62L0,0.62' : 'stroke'"},"strokeDash":{"signal":"datum.value === 'qe' ? [5,3] : [1,0]"}}}}}},
         "strokeDash":{"field":"k","type":"nominal","scale":{"domain":["tot","qe","inel"],"range":[[1,0],[5,3],[1,0]]},"legend":null}
        }},
       {"data":{"name":"d4"},"mark":{"type":"errorbar","thickness":1.3},
        "encoding":{"x":{"field":"x","type":"quantitative","title":"ν (GeV)"},"y":{"field":"y","type":"quantitative","title":"d²σ/dΩdE′ (nb/sr GeV)"},"yError":{"field":"e"},"color":{"datum":"dat"}}},
       {"data":{"name":"d4"},"mark":{"type":"point","filled":true,"size":10,"color":"#111","opacity":1},
        "encoding":{"x":{"field":"x","type":"quantitative","title":"ν (GeV)"},"y":{"field":"y","type":"quantitative","title":"d²σ/dΩdE′ (nb/sr GeV)"}}},
       {"data":{"values":[{"x":0.542,"y":44940,"t":"QE Norm<1.0"}]},"mark":{"type":"text","font":"Liberation Sans","fontSize":29,"fontWeight":"bold","color":"#ff1414"},
        "encoding":{"x":{"field":"x","type":"quantitative","title":"ν (GeV)"},"y":{"field":"y","type":"quantitative","title":"d²σ/dΩdE′ (nb/sr GeV)"},"text":{"field":"t"}}}
      ]},
     {"width":124,"height":420,"data":{"name":"none"},"mark":"text"},
     {"width":347,"height":361,"view":{"stroke":"#222","strokeWidth":1.2},
      "layer":[
       {"data":{"name":"c5"},"transform":[{"fold":["tot","qe","inel"],"as":["k","v"]}],
        "mark":{"type":"line","interpolate":"monotone","strokeWidth":1.6},
        "encoding":{
         "x":{"field":"x","type":"quantitative","scale":{"domain":[0,1],"nice":false,"zero":false},"axis":{"values":[0,0.2,0.4,0.6,0.8,1],"format":".1f"},"title":"ν (GeV)"},
         "y":{"field":"v","type":"quantitative","scale":{"domain":[0,36000],"nice":false},"axis":{"values":[0,5000,10000,15000,20000,25000,30000,35000],"format":"d"},"title":"d²σ/dΩdE′ (nb/sr GeV)"},
         "color":{"field":"k","type":"nominal","scale":{"domain":["tot","qe","inel","dat"],"range":["#3f5ff5","#ff4040","#2f9a3a","#111111"]},
           "legend":{"orient":"none","legendX":94,"legendY":9,"title":null,"labelExpr":"datum.value == 'tot' ? 'Christy-Bodek fit (total)' : datum.value == 'qe' ? 'QE + TE' : datum.value == 'inel' ? 'Inelastic' : 'Zeller:1973ge'",
           "encode":{"symbols":{"update":{"shape":{"signal":"datum.value === 'dat' ? 'M0,-0.62L0,0.62' : 'stroke'"},"strokeDash":{"signal":"datum.value === 'qe' ? [5,3] : [1,0]"}}}}}},
         "strokeDash":{"field":"k","type":"nominal","scale":{"domain":["tot","qe","inel"],"range":[[1,0],[5,3],[1,0]]},"legend":null}
        }},
       {"data":{"name":"d5"},"mark":{"type":"errorbar","thickness":1.3},
        "encoding":{"x":{"field":"x","type":"quantitative","title":"ν (GeV)"},"y":{"field":"y","type":"quantitative","title":"d²σ/dΩdE′ (nb/sr GeV)"},"yError":{"field":"e"},"color":{"datum":"dat"}}},
       {"data":{"name":"d5"},"mark":{"type":"point","filled":true,"size":10,"color":"#111","opacity":1},
        "encoding":{"x":{"field":"x","type":"quantitative","title":"ν (GeV)"},"y":{"field":"y","type":"quantitative","title":"d²σ/dΩdE′ (nb/sr GeV)"}}},
       {"data":{"values":[{"x":0.683,"y":19645,"t":"QE Norm>1.0"}]},"mark":{"type":"text","font":"Liberation Sans","fontSize":29,"fontWeight":"bold","color":"#ff1414"},
        "encoding":{"x":{"field":"x","type":"quantitative","title":"ν (GeV)"},"y":{"field":"y","type":"quantitative","title":"d²σ/dΩdE′ (nb/sr GeV)"},"text":{"field":"t"}}}
      ]},
     {"width":124,"height":420,"data":{"name":"none"},"mark":"text"},
     {"width":362,"height":361,"view":{"stroke":"#222","strokeWidth":1.2},
      "layer":[
       {"data":{"name":"c6"},"transform":[{"fold":["tot","qe","inel"],"as":["k","v"]}],
        "mark":{"type":"line","interpolate":"monotone","strokeWidth":1.6},
        "encoding":{
         "x":{"field":"x","type":"quantitative","scale":{"domain":[0,1.097],"nice":false,"zero":false},"axis":{"values":[0,0.2,0.4,0.6,0.8,1],"format":".1f"},"title":"ν (GeV)"},
         "y":{"field":"v","type":"quantitative","scale":{"domain":[0,26940],"nice":false},"axis":{"values":[0,5000,10000,15000,20000,25000],"format":"d"},"title":"d²σ/dΩdE′ (nb/sr GeV)"},
         "color":{"field":"k","type":"nominal","scale":{"domain":["tot","qe","inel","dat"],"range":["#3f5ff5","#ff4040","#2f9a3a","#111111"]},
           "legend":{"orient":"none","legendX":108,"legendY":9,"title":null,"labelExpr":"datum.value == 'tot' ? 'Christy-Bodek fit (total)' : datum.value == 'qe' ? 'QE + TE' : datum.value == 'inel' ? 'Inelastic' : 'Zeller:1973ge'",
           "encode":{"symbols":{"update":{"shape":{"signal":"datum.value === 'dat' ? 'M0,-0.62L0,0.62' : 'stroke'"},"strokeDash":{"signal":"datum.value === 'qe' ? [5,3] : [1,0]"}}}}}},
         "strokeDash":{"field":"k","type":"nominal","scale":{"domain":["tot","qe","inel"],"range":[[1,0],[5,3],[1,0]]},"legend":null}
        }},
       {"data":{"name":"d6"},"mark":{"type":"errorbar","thickness":1.3},
        "encoding":{"x":{"field":"x","type":"quantitative","title":"ν (GeV)"},"y":{"field":"y","type":"quantitative","title":"d²σ/dΩdE′ (nb/sr GeV)"},"yError":{"field":"e"},"color":{"datum":"dat"}}},
       {"data":{"name":"d6"},"mark":{"type":"point","filled":true,"size":10,"color":"#111","opacity":1},
        "encoding":{"x":{"field":"x","type":"quantitative","title":"ν (GeV)"},"y":{"field":"y","type":"quantitative","title":"d²σ/dΩdE′ (nb/sr GeV)"}}},
       {"data":{"values":[{"x":0.727,"y":15070,"t":"QE Norm=1.0"}]},"mark":{"type":"text","font":"Liberation Sans","fontSize":29,"fontWeight":"bold","color":"#ff1414"},
        "encoding":{"x":{"field":"x","type":"quantitative","title":"ν (GeV)"},"y":{"field":"y","type":"quantitative","title":"d²σ/dΩdE′ (nb/sr GeV)"},"text":{"field":"t"}}},
       {"data":{"values":[{"x":0.439,"y":-4300,"x2":0.168,"y2":5300}]},"mark":{"type":"rule","color":"#ff1414","strokeWidth":3.5,"clip":false},
        "encoding":{"x":{"field":"x","type":"quantitative","title":"ν (GeV)"},"y":{"field":"y","type":"quantitative","title":"d²σ/dΩdE′ (nb/sr GeV)"},"x2":{"field":"x2"},"y2":{"field":"y2"}}},
       {"data":{"values":[{"x":0.163,"y":6000}]},"mark":{"type":"point","shape":"triangle-up","angle":327,"size":260,"filled":true,"color":"#ff1414","opacity":1,"clip":false},
        "encoding":{"x":{"field":"x","type":"quantitative","title":"ν (GeV)"},"y":{"field":"y","type":"quantitative","title":"d²σ/dΩdE′ (nb/sr GeV)"}}}
      ]},
     {"width":19,"height":420,"data":{"name":"none"},"mark":"text"}
    ],"bounds":"flush","resolve":{"scale":{"color":"independent","strokeDash":"independent"},"legend":{"color":"independent"}}},
    {"hconcat":[
     {"width":15,"height":50,"data":{"name":"none"},"mark":"text"},
     {"width":180,"height":50,"data":{"name":"one"},"mark":{"type":"text","text":"Zeller:73","font":"Liberation Sans","fontSize":43,"fontWeight":"bold","color":"#ff1414"},"view":{"fill":"#ffff3a"}},
     {"width":1131,"height":50,"data":{"name":"one"},"mark":{"type":"text","text":"– Normalizations  inconsistent between 3 Energies, ν shift","font":"Liberation Sans","fontSize":44,"color":"#ff1414"},"view":{"fill":"#ffff3a"}}
    ]},
    {"hconcat":[
     {"width":15,"height":55,"data":{"name":"none"},"mark":"text"},
     {"width":59,"height":55,"data":{"name":"none"},"mark":"text","view":{"fill":"#ffff3a"}},
     {"width":1311,"height":55,"data":{"name":"one"},"mark":{"type":"text","text":"Also inconsistent normalization between   QE and Δ(1238) resonance","font":"Liberation Sans","fontSize":43,"color":"#ff1414"},"view":{"fill":"#ffff3a"}}
    ]},
    {"width":1523,"height":16,"data":{"name":"none"},"mark":"text"}
   ],"resolve":{"scale":{"color":"independent","strokeDash":"independent"},"legend":{"color":"independent"}}},
   {"width":5,"height":573,"data":{"name":"none"},"mark":"text","view":{"fill":"#ff0d0d"}}
  ],"resolve":{"scale":{"color":"independent","strokeDash":"independent"},"legend":{"color":"independent"}}},
  {"width":1533,"height":5,"data":{"name":"none"},"mark":"text","view":{"fill":"#ff0d0d"}}
 ],"resolve":{"scale":{"color":"independent","strokeDash":"independent"},"legend":{"color":"independent"}}}
],"resolve":{"scale":{"color":"independent","strokeDash":"independent"},"legend":{"color":"independent"}}}
],"resolve":{"scale":{"color":"independent","strokeDash":"independent"},"legend":{"color":"independent"}}}
